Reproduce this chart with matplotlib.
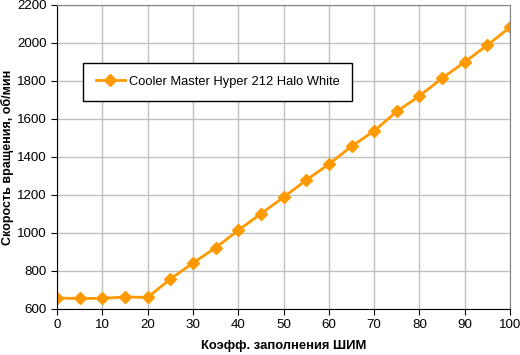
import matplotlib
matplotlib.use('Agg')
from matplotlib import pyplot as plt

plt.rcParams['font.family'] = ['Liberation Sans', 'DejaVu Sans']

# PWM duty cycle (%) and fan speed (rpm)
duty = [0, 5, 10, 15, 20, 25, 30, 35, 40, 45, 50, 55, 60, 65, 70, 75, 80, 85, 90, 95, 100]
rpm = [657, 656, 656, 663, 661, 757, 842, 922, 1014, 1101, 1188, 1278, 1362, 1456, 1537, 1640, 1721, 1815, 1900, 1989, 2083]
label = 'Cooler Master Hyper 212 Halo White'

fig = plt.figure(figsize=(5.2, 3.55), dpi=100)
ax = fig.add_axes([0.1096, 0.1296, 0.8714, 0.8564])

ax.plot(duty, rpm, color='#FF9900', lw=2, marker='D', ms=6, label=label)

ax.set_xlim(0, 100)
ax.set_ylim(600, 2200)
ax.set_xticks(range(0, 101, 10))
ax.set_yticks(range(600, 2201, 200))
ax.grid(True, color='#C0C0C0', lw=1)
ax.set_axisbelow(True)

for s in ['top', 'right']:
    ax.spines[s].set_color('#808080')
for s in ['left', 'bottom']:
    ax.spines[s].set_color('black')
ax.tick_params(direction='out', length=4, labelsize=9.6, colors='black')

ax.set_xlabel('Коэфф. заполнения ШИМ', fontsize=9.4, fontweight='bold', labelpad=6)
ax.set_ylabel('Скорость вращения, об/мин', fontsize=9.0, fontweight='bold', labelpad=2)

leg = ax.legend(loc='upper left', bbox_to_anchor=(0.057, 0.809), fontsize=9.3,
                frameon=True, fancybox=False, edgecolor='black', framealpha=1,
                handlelength=2.25, handletextpad=0.3, borderpad=1.0, borderaxespad=0)
leg.get_frame().set_linewidth(1)

fig.savefig('out.png', dpi=100)
